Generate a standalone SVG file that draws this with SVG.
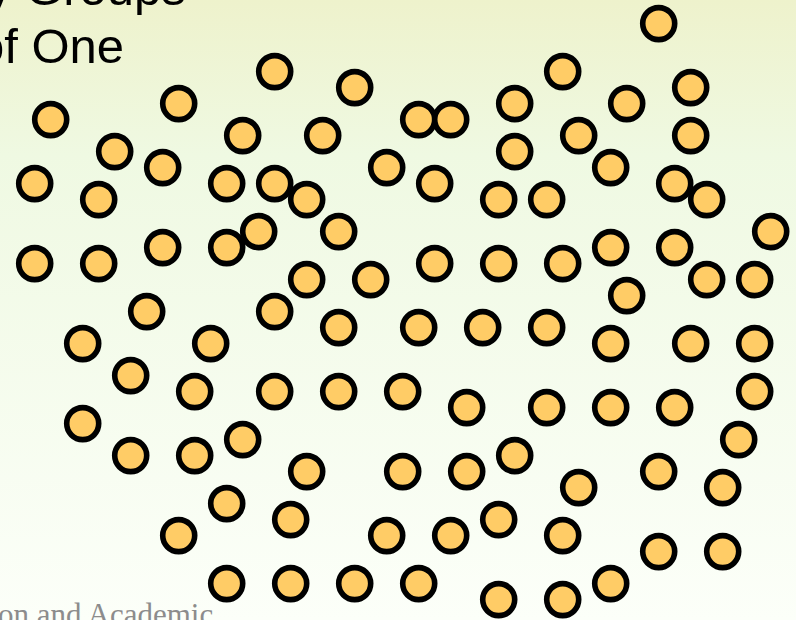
<svg xmlns="http://www.w3.org/2000/svg" width="796" height="620" viewBox="0 0 796 620">
<defs>
<linearGradient id="bg" x1="0" y1="0" x2="0" y2="1">
<stop offset="0" stop-color="#eef2cc"/>
<stop offset="0.25" stop-color="#eff9e2"/>
<stop offset="1" stop-color="#fcfff9"/>
</linearGradient>
<style>
.d{fill:#ffcc66;stroke:#000;stroke-width:5.6}
.t{font-family:"Liberation Sans",Arial,sans-serif;font-size:49px;fill:#000}
.f{font-family:"Liberation Serif","Times New Roman",serif;font-size:31px;fill:#8c8c8c}
</style>
</defs>
<rect width="796" height="620" fill="url(#bg)"/>
<text class="t" x="-13" y="5">y Groups</text>
<text class="t" x="-23" y="63">of One</text>
<text class="f" x="-2" y="625">on and Academic</text>
<g id="dots">
<circle class="d" cx="658.7" cy="23.6" r="16"/>
<circle class="d" cx="274.7" cy="71.6" r="16"/>
<circle class="d" cx="562.7" cy="71.6" r="16"/>
<circle class="d" cx="354.7" cy="87.6" r="16"/>
<circle class="d" cx="690.7" cy="87.6" r="16"/>
<circle class="d" cx="50.7" cy="119.6" r="16"/>
<circle class="d" cx="178.7" cy="103.6" r="16"/>
<circle class="d" cx="514.7" cy="103.6" r="16"/>
<circle class="d" cx="626.7" cy="103.6" r="16"/>
<circle class="d" cx="418.7" cy="119.6" r="16"/>
<circle class="d" cx="450.7" cy="119.6" r="16"/>
<circle class="d" cx="242.7" cy="135.6" r="16"/>
<circle class="d" cx="322.7" cy="135.6" r="16"/>
<circle class="d" cx="578.7" cy="135.6" r="16"/>
<circle class="d" cx="690.7" cy="135.6" r="16"/>
<circle class="d" cx="114.7" cy="151.6" r="16"/>
<circle class="d" cx="514.7" cy="151.6" r="16"/>
<circle class="d" cx="162.7" cy="167.6" r="16"/>
<circle class="d" cx="386.7" cy="167.6" r="16"/>
<circle class="d" cx="610.7" cy="167.6" r="16"/>
<circle class="d" cx="34.7" cy="183.6" r="16"/>
<circle class="d" cx="226.7" cy="183.6" r="16"/>
<circle class="d" cx="274.7" cy="183.6" r="16"/>
<circle class="d" cx="434.7" cy="183.6" r="16"/>
<circle class="d" cx="674.7" cy="183.6" r="16"/>
<circle class="d" cx="98.7" cy="199.6" r="16"/>
<circle class="d" cx="306.7" cy="199.6" r="16"/>
<circle class="d" cx="498.7" cy="199.6" r="16"/>
<circle class="d" cx="546.7" cy="199.6" r="16"/>
<circle class="d" cx="706.7" cy="199.6" r="16"/>
<circle class="d" cx="226.7" cy="247.6" r="16"/>
<circle class="d" cx="258.7" cy="231.6" r="16"/>
<circle class="d" cx="338.7" cy="231.6" r="16"/>
<circle class="d" cx="770.7" cy="231.6" r="16"/>
<circle class="d" cx="162.7" cy="247.6" r="16"/>
<circle class="d" cx="610.7" cy="247.6" r="16"/>
<circle class="d" cx="674.7" cy="247.6" r="16"/>
<circle class="d" cx="34.7" cy="263.6" r="16"/>
<circle class="d" cx="98.7" cy="263.6" r="16"/>
<circle class="d" cx="434.7" cy="263.6" r="16"/>
<circle class="d" cx="498.7" cy="263.6" r="16"/>
<circle class="d" cx="562.7" cy="263.6" r="16"/>
<circle class="d" cx="306.7" cy="279.6" r="16"/>
<circle class="d" cx="370.7" cy="279.6" r="16"/>
<circle class="d" cx="706.7" cy="279.6" r="16"/>
<circle class="d" cx="754.7" cy="279.6" r="16"/>
<circle class="d" cx="626.7" cy="295.6" r="16"/>
<circle class="d" cx="146.7" cy="311.6" r="16"/>
<circle class="d" cx="274.7" cy="311.6" r="16"/>
<circle class="d" cx="338.7" cy="327.6" r="16"/>
<circle class="d" cx="418.7" cy="327.6" r="16"/>
<circle class="d" cx="482.7" cy="327.6" r="16"/>
<circle class="d" cx="546.7" cy="327.6" r="16"/>
<circle class="d" cx="82.7" cy="343.6" r="16"/>
<circle class="d" cx="210.7" cy="343.6" r="16"/>
<circle class="d" cx="610.7" cy="343.6" r="16"/>
<circle class="d" cx="690.7" cy="343.6" r="16"/>
<circle class="d" cx="754.7" cy="343.6" r="16"/>
<circle class="d" cx="130.7" cy="375.6" r="16"/>
<circle class="d" cx="194.7" cy="391.6" r="16"/>
<circle class="d" cx="274.7" cy="391.6" r="16"/>
<circle class="d" cx="338.7" cy="391.6" r="16"/>
<circle class="d" cx="402.7" cy="391.6" r="16"/>
<circle class="d" cx="754.7" cy="391.6" r="16"/>
<circle class="d" cx="466.7" cy="407.6" r="16"/>
<circle class="d" cx="546.7" cy="407.6" r="16"/>
<circle class="d" cx="610.7" cy="407.6" r="16"/>
<circle class="d" cx="674.7" cy="407.6" r="16"/>
<circle class="d" cx="82.7" cy="423.6" r="16"/>
<circle class="d" cx="242.7" cy="439.6" r="16"/>
<circle class="d" cx="738.7" cy="439.6" r="16"/>
<circle class="d" cx="130.7" cy="455.6" r="16"/>
<circle class="d" cx="194.7" cy="455.6" r="16"/>
<circle class="d" cx="514.7" cy="455.6" r="16"/>
<circle class="d" cx="306.7" cy="471.6" r="16"/>
<circle class="d" cx="402.7" cy="471.6" r="16"/>
<circle class="d" cx="466.7" cy="471.6" r="16"/>
<circle class="d" cx="658.7" cy="471.6" r="16"/>
<circle class="d" cx="578.7" cy="487.6" r="16"/>
<circle class="d" cx="722.7" cy="487.6" r="16"/>
<circle class="d" cx="226.7" cy="503.6" r="16"/>
<circle class="d" cx="290.7" cy="519.6" r="16"/>
<circle class="d" cx="498.7" cy="519.6" r="16"/>
<circle class="d" cx="178.7" cy="535.6" r="16"/>
<circle class="d" cx="386.7" cy="535.6" r="16"/>
<circle class="d" cx="450.7" cy="535.6" r="16"/>
<circle class="d" cx="562.7" cy="535.6" r="16"/>
<circle class="d" cx="658.7" cy="551.6" r="16"/>
<circle class="d" cx="722.7" cy="551.6" r="16"/>
<circle class="d" cx="226.7" cy="583.6" r="16"/>
<circle class="d" cx="290.7" cy="583.6" r="16"/>
<circle class="d" cx="354.7" cy="583.6" r="16"/>
<circle class="d" cx="418.7" cy="583.6" r="16"/>
<circle class="d" cx="610.7" cy="583.6" r="16"/>
<circle class="d" cx="498.7" cy="599.6" r="16"/>
<circle class="d" cx="562.7" cy="599.6" r="16"/>
</g>
</svg>
